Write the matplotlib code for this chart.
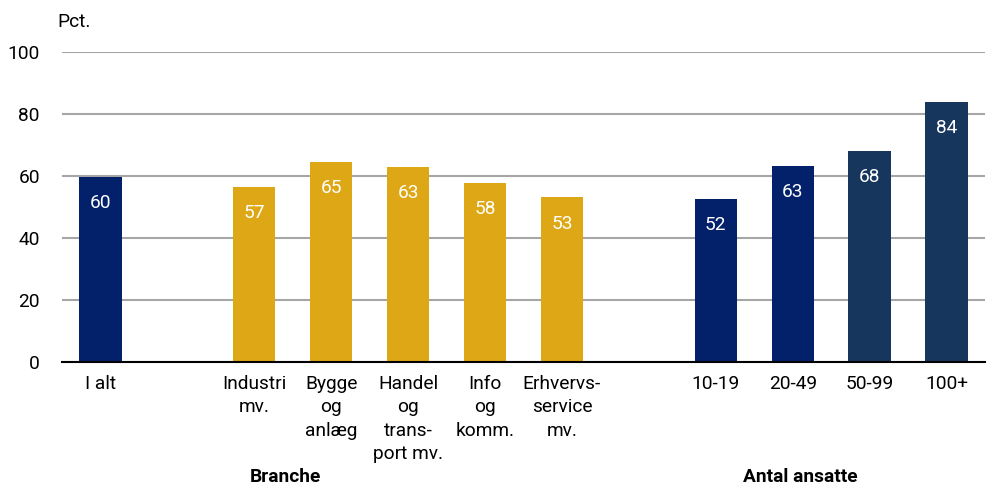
import numpy as np
import matplotlib.pyplot as plt

plt.rcParams['font.family'] = ['Roboto', 'DejaVu Sans']

# data
labels = ['I alt', 'Industri\nmv.', 'Bygge\nog\nanlæg', 'Handel\nog\ntrans-\nport mv.',
          'Info\nog\nkomm.', 'Erhvervs-\nservice\nmv.', '10-19', '20-49', '50-99', '100+']
values = [59.7, 56.6, 64.6, 63.0, 57.8, 53.2, 52.6, 63.4, 68.2, 84.0]
shown = [60, 57, 65, 63, 58, 53, 52, 63, 68, 84]
positions = [0, 2, 3, 4, 5, 6, 8, 9, 10, 11]
colors = ['#03216b', '#dea715', '#dea715', '#dea715', '#dea715', '#dea715',
          '#03216b', '#03216b', '#17365d', '#17365d']

fs = 13.8

fig = plt.figure(figsize=(9.93, 4.86), dpi=100)
ax = fig.add_axes([62/993, 1-362/486, (985-62)/993, (362-52.3)/486])

ax.bar(positions, values, width=0.55, color=colors, zorder=3)
for x, v, s in zip(positions, values, shown):
    ax.annotate(str(s), (x, v), xytext=(0, -19), textcoords='offset points',
                ha='center', va='center', color='white', fontsize=fs, zorder=4)

ax.set_xlim(-0.5, 11.5)
ax.set_ylim(0, 100)
ax.set_yticks(np.arange(0, 101, 20))
ax.yaxis.grid(True, color='#a6a6a6', linewidth=1.5, zorder=0)
ax.set_xticks(positions)
ax.set_xticklabels(labels, fontsize=fs, linespacing=1.4, va='top', ha='center')
ax.tick_params(axis='both', length=0, labelsize=fs)
ax.tick_params(axis='x', pad=9)
ax.tick_params(axis='y', pad=16)
for side in ['left', 'right', 'top']:
    ax.spines[side].set_visible(False)
ax.spines['bottom'].set_color('black')
ax.spines['bottom'].set_linewidth(1.5)
ax.spines['bottom'].set_zorder(5)

fig.text(57/993, 1-22/486, 'Pct.', fontsize=fs, va='center', ha='left')
tr = ax.get_xaxis_transform()
ax.text(2.4, -0.37, 'Branche', transform=tr, ha='center', va='center',
        fontsize=fs, fontweight='bold')
ax.text(9.1, -0.37, 'Antal ansatte', transform=tr, ha='center', va='center',
        fontsize=fs, fontweight='bold')

fig.savefig('out.png', dpi=100)
